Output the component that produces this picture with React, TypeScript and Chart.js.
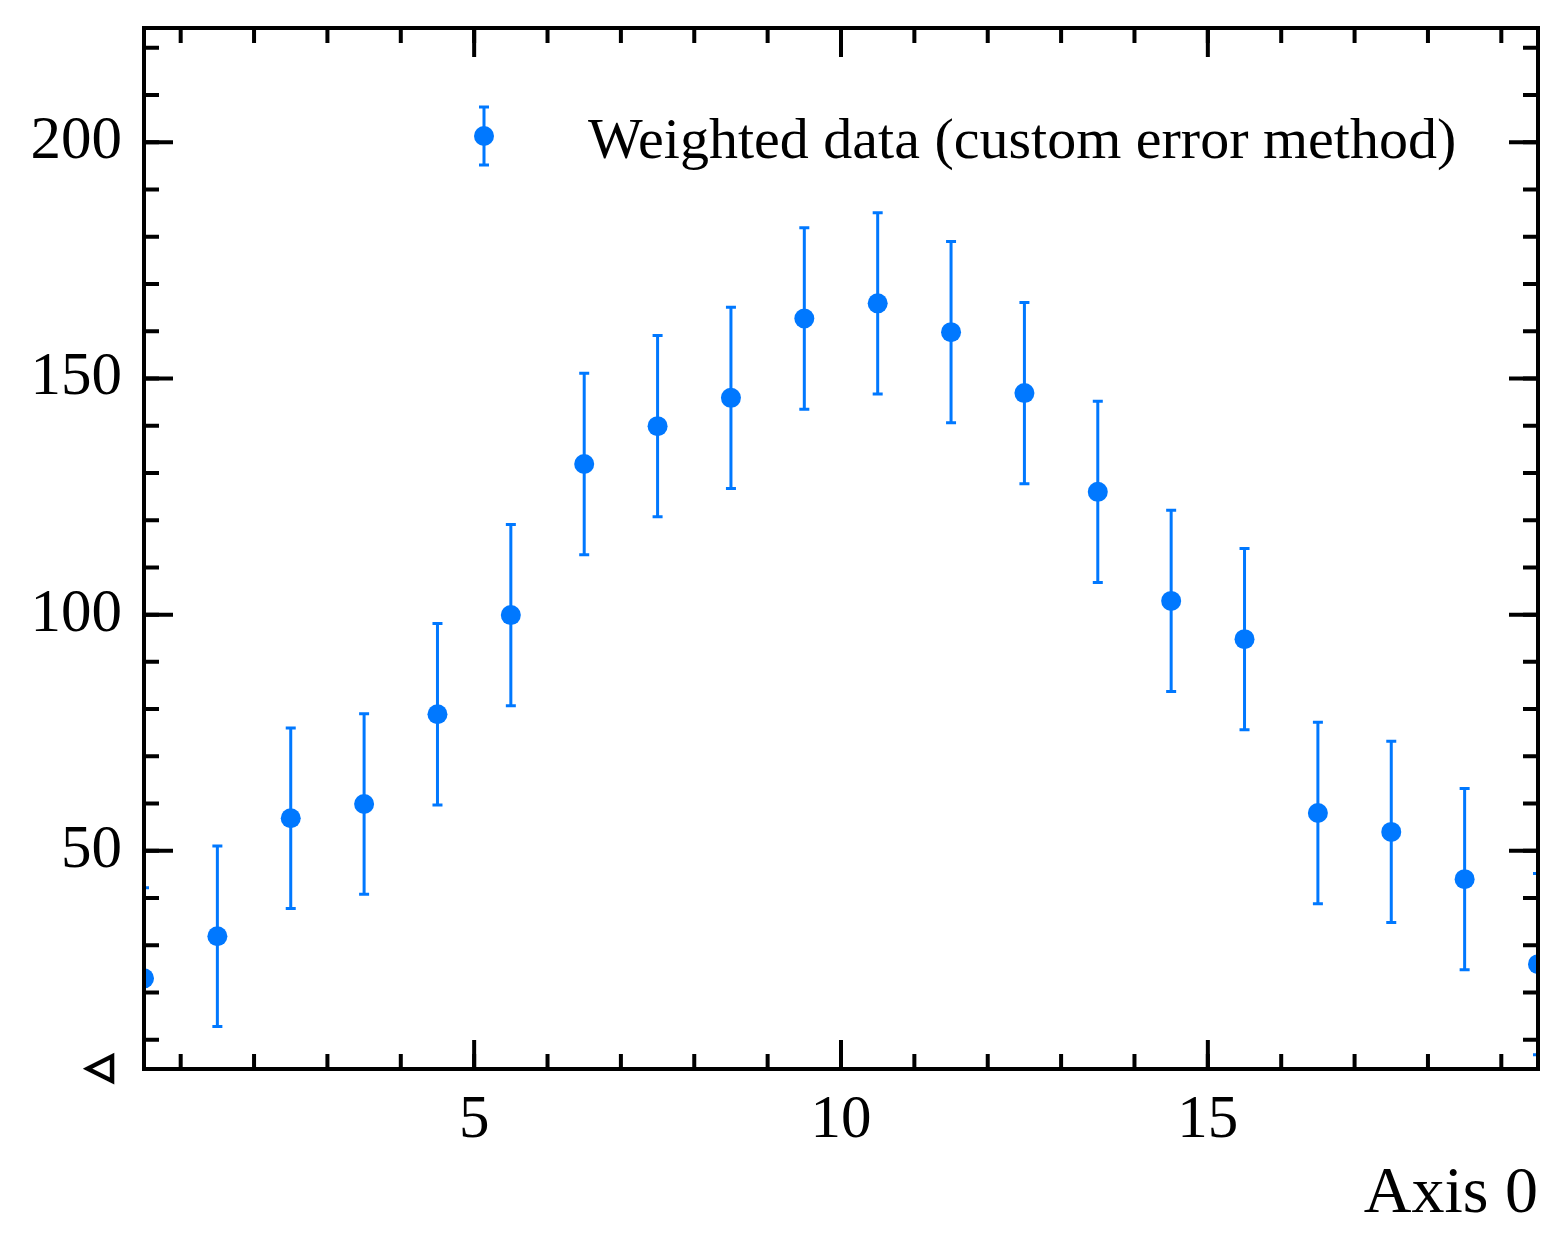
import React, { useEffect, useRef } from "react";
import { Chart, registerables } from "chart.js";

Chart.register(...registerables);

// bin centres and weighted content
const xCenters = [0.5, 1.5, 2.5, 3.5, 4.5, 5.5, 6.5, 7.5, 8.5, 9.5, 10.5, 11.5, 12.5, 13.5, 14.5, 15.5, 16.5, 17.5, 18.5, 19.5];
const weightedValues = [23.0, 31.9, 56.9, 59.9, 78.9, 99.9, 131.9, 139.9, 145.9, 162.7, 165.9, 159.8, 146.9, 126.0, 102.9, 94.8, 58.0, 54.0, 44.0, 26.0];
const errorValues = [19.2, 19.1, 19.1, 19.1, 19.2, 19.2, 19.2, 19.2, 19.2, 19.2, 19.2, 19.2, 19.2, 19.2, 19.2, 19.2, 19.2, 19.2, 19.2, 19.2];

const xMajorTicks = [5, 10, 15];
const xMinorTicks = [1, 2, 3, 4, 5, 6, 7, 8, 9, 10, 11, 12, 13, 14, 15, 16, 17, 18, 19];
const yMajorTicks = [50, 100, 150, 200];
const yMinorTicks = [10, 20, 30, 40, 50, 60, 70, 80, 90, 100, 110, 120, 130, 140, 150, 160, 170, 180, 190, 200, 210, 220];

const legendLabel = "Weighted data (custom error method)";
const xAxisTitle = "Axis 0";
const cornerMark = "◁";

const BLUE = "#0078ff";
const SERIF = "'Liberation Serif', 'Times New Roman', serif";

const hepStyle = {
    id: "hepStyle",
    beforeDatasetsDraw(chart: any) {
        const { ctx, chartArea: a, scales } = chart;
        const { x, y } = scales;
        ctx.save();
        ctx.beginPath();
        ctx.rect(a.left, a.top, a.right - a.left, a.bottom - a.top);
        ctx.clip();
        ctx.strokeStyle = BLUE;
        ctx.lineWidth = 3;
        xCenters.forEach((xv, i) => {
            const px = x.getPixelForValue(xv);
            const lo = y.getPixelForValue(weightedValues[i] - errorValues[i]);
            const hi = y.getPixelForValue(weightedValues[i] + errorValues[i]);
            ctx.beginPath();
            ctx.moveTo(px, lo);
            ctx.lineTo(px, hi);
            ctx.moveTo(px - 5, lo);
            ctx.lineTo(px + 5, lo);
            ctx.moveTo(px - 5, hi);
            ctx.lineTo(px + 5, hi);
            ctx.stroke();
        });
        ctx.restore();
    },
    afterDraw(chart: any) {
        const { ctx, chartArea: a, scales } = chart;
        const { x, y } = scales;
        ctx.save();
        ctx.strokeStyle = "#000";
        ctx.lineWidth = 4;
        ctx.strokeRect(a.left, a.top, a.right - a.left, a.bottom - a.top);

        const tick = (len: number, vals: number[], horizontal: boolean) => {
            vals.forEach((v) => {
                if (horizontal) {
                    const px = x.getPixelForValue(v);
                    ctx.beginPath();
                    ctx.moveTo(px, a.bottom);
                    ctx.lineTo(px, a.bottom - len);
                    ctx.moveTo(px, a.top);
                    ctx.lineTo(px, a.top + len);
                    ctx.stroke();
                } else {
                    const py = y.getPixelForValue(v);
                    ctx.beginPath();
                    ctx.moveTo(a.left, py);
                    ctx.lineTo(a.left + len, py);
                    ctx.moveTo(a.right, py);
                    ctx.lineTo(a.right - len, py);
                    ctx.stroke();
                }
            });
        };
        tick(15, xMinorTicks, true);
        tick(29, xMajorTicks, true);
        tick(15, yMinorTicks, false);
        tick(29, yMajorTicks, false);

        // axis title, right aligned
        ctx.fillStyle = "#000";
        ctx.font = `66px ${SERIF}`;
        ctx.textAlign = "right";
        ctx.textBaseline = "alphabetic";
        ctx.fillText(xAxisTitle, a.right, 1212);

        // legend
        const lx = 484;
        const ly = 136;
        ctx.strokeStyle = BLUE;
        ctx.lineWidth = 3;
        ctx.beginPath();
        ctx.moveTo(lx, ly - 29);
        ctx.lineTo(lx, ly + 29);
        ctx.moveTo(lx - 5, ly - 29);
        ctx.lineTo(lx + 5, ly - 29);
        ctx.moveTo(lx - 5, ly + 29);
        ctx.lineTo(lx + 5, ly + 29);
        ctx.stroke();
        ctx.fillStyle = BLUE;
        ctx.beginPath();
        ctx.arc(lx, ly, 10, 0, Math.PI * 2);
        ctx.fill();
        ctx.fillStyle = "#000";
        ctx.font = `58px ${SERIF}`;
        ctx.textAlign = "left";
        ctx.fillText(legendLabel, 588, 158);

        // small mark at the lower left corner
        ctx.font = "36px 'DejaVu Sans'";
        ctx.textAlign = "center";
        ctx.textBaseline = "middle";
        ctx.strokeStyle = "#000";
        ctx.lineWidth = 2.5;
        ctx.lineJoin = "miter";
        ctx.fillText(cornerMark, 99, 1069);
        ctx.strokeText(cornerMark, 99, 1069);
        ctx.restore();
    },
};

export default function App() {
    const canvasRef = useRef<HTMLCanvasElement | null>(null);

    useEffect(() => {
        if (!canvasRef.current) return;

        const chart = new Chart(canvasRef.current, {
            type: "scatter",
            data: {
                datasets: [
                    {
                        label: legendLabel,
                        data: xCenters.map((xv, i) => ({ x: xv, y: weightedValues[i] })),
                        pointRadius: 10,
                        pointHoverRadius: 10,
                        pointBackgroundColor: BLUE,
                        pointBorderWidth: 0,
                        borderColor: BLUE,
                        clip: 0,
                    },
                ],
            },
            options: {
                responsive: false,
                animation: false,
                devicePixelRatio: 1,
                layout: { padding: { top: 28, right: 30, left: 0, bottom: 0 } },
                plugins: {
                    legend: { display: false },
                    tooltip: { enabled: false },
                },
                scales: {
                    x: {
                        type: "linear",
                        min: 0.5,
                        max: 19.5,
                        grid: { display: false, drawTicks: false },
                        border: { display: false },
                        afterBuildTicks: (s: any) => {
                            s.ticks = xMajorTicks.map((v) => ({ value: v }));
                        },
                        afterFit: (s: any) => {
                            s.height = 188;
                            s.paddingLeft = 0;
                            s.paddingRight = 0;
                        },
                        ticks: {
                            color: "#000",
                            padding: 15,
                            maxRotation: 0,
                            font: { family: SERIF, size: 61 },
                        },
                    },
                    y: {
                        type: "linear",
                        min: 3.8,
                        max: 224.2,
                        grid: { display: false, drawTicks: false },
                        border: { display: false },
                        afterBuildTicks: (s: any) => {
                            s.ticks = yMajorTicks.map((v) => ({ value: v }));
                        },
                        afterFit: (s: any) => {
                            s.width = 144;
                            s.paddingTop = 0;
                            s.paddingBottom = 0;
                        },
                        ticks: {
                            color: "#000",
                            padding: 22,
                            font: { family: SERIF, size: 61 },
                        },
                    },
                },
            },
            plugins: [hepStyle],
        });

        return () => chart.destroy();
    }, []);

    return (
        <div style={{ position: "absolute", left: 0, top: 0, width: 1568, height: 1257, background: "#fff" }}>
            <canvas ref={canvasRef} width={1568} height={1257} style={{ display: "block", width: 1568, height: 1257 }} />
        </div>
    );
}
